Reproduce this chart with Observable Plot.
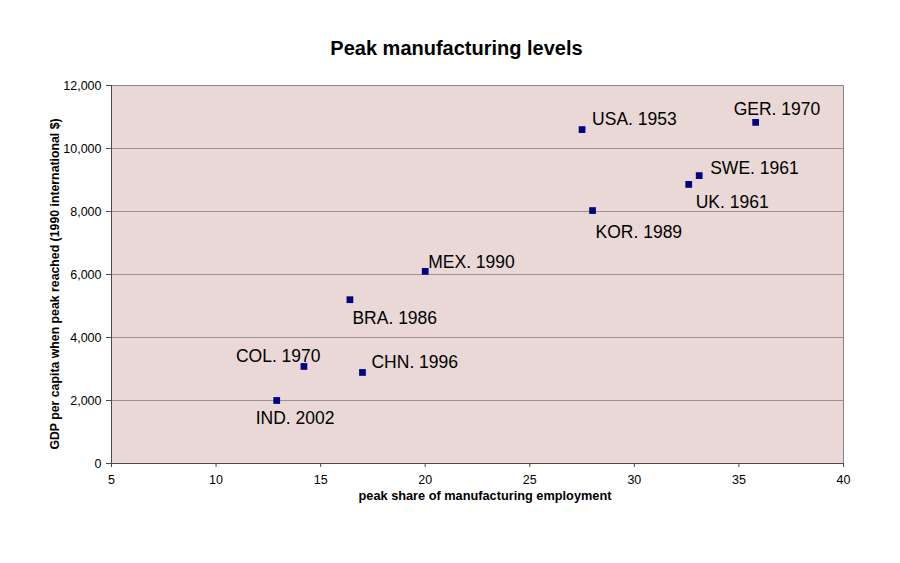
<!DOCTYPE html>
<html><head><meta charset="utf-8">
<script src="https://cdn.jsdelivr.net/npm/d3@7"></script>
<script src="https://cdn.jsdelivr.net/npm/@observablehq/plot@0.6"></script>
<style>
body{margin:0;background:#fff;font-family:"Liberation Sans",Arial,sans-serif;}
#title{height:60px;box-sizing:border-box;padding-top:36px;padding-left:13px;line-height:24px;text-align:center;font-weight:bold;font-size:20px;color:#000;}
#chart svg{display:block;}
</style></head><body>
<div id="title">Peak manufacturing levels</div>
<div id="chart"></div>
<script>
// ---- data ----
const countries = ["USA", "GER", "SWE", "UK", "KOR", "MEX", "BRA", "COL", "CHN", "IND"];
const peakYears = [1953, 1970, 1961, 1961, 1989, 1990, 1986, 1970, 1996, 2002];
const peakShare = [27.5, 35.8, 33.1, 32.6, 28.0, 20.0, 16.4, 14.2, 17.0, 12.9];
const gdpPerCapita = [10600, 10830, 9140, 8860, 8030, 6100, 5200, 3080, 2890, 2000];
const xTicks = [5, 10, 15, 20, 25, 30, 35, 40];
const yTicks = [0, 2000, 4000, 6000, 8000, 10000, 12000];
const gridValues = [2000, 4000, 6000, 8000, 10000];
const xTitle = "peak share of manufacturing employment";
const yTitle = "GDP per capita when peak reached (1990 international $)";

// ---- layout ----
const rows = countries.map((c, i) => ({
  country: c, year: peakYears[i], share: peakShare[i], gdp: gdpPerCapita[i],
  label: `${c}. ${peakYears[i]}`
}));
const labelOffset = {
  USA: [10, -10], GER: [-22, -12.5], SWE: [11, -7], UK: [7, 18], KOR: [3, 21.5],
  MEX: [3, -9], BRA: [2.5, 18.5], COL: [-68, -10], CHN: [9, -10], IND: [-21, 18]
};
const font = '"Liberation Sans", Arial, sans-serif';

const labelMarks = rows.map(d => Plot.text([d], {
  x: "share", y: "gdp", text: "label",
  textAnchor: "start", lineAnchor: "middle",
  dx: labelOffset[d.country][0], dy: labelOffset[d.country][1],
  fontSize: 17.5, fill: "#000"
}));

const chart = Plot.plot({
  width: 900, height: 503,
  marginTop: 25, marginBottom: 100, marginLeft: 111, marginRight: 57,
  style: {background: "transparent", fontFamily: font, fontSize: "12.5px", color: "#000"},
  x: {domain: [5, 40]},
  y: {domain: [0, 12000]},
  marks: [
    Plot.frame({fill: "#e9d8d6"}),
    Plot.gridY(gridValues, {stroke: "#9b9191", strokeOpacity: 1}),
    Plot.frame({stroke: "#8a8585"}),
    Plot.ruleX([5], {stroke: "#4a4a4a"}),
    Plot.ruleY([0], {stroke: "#4a4a4a"}),
    Plot.axisX({ticks: xTicks, tickSize: 4, tickPadding: 8, label: null, stroke: "#4a4a4a", fill: "#000"}),
    Plot.axisY({ticks: yTicks, tickSize: 5, tickPadding: 5, tickFormat: d3.format(","), label: null, stroke: "#4a4a4a", fill: "#000"}),
    Plot.dot(rows, {x: "share", y: "gdp", symbol: "square", r: 3.8, fill: "#000080", stroke: "none"}),
    ...labelMarks,
    Plot.text([xTitle], {frameAnchor: "bottom", textAnchor: "middle", dx: 7.5, dy: 36, fontWeight: "bold", fontSize: 12.75, fill: "#000"}),
    Plot.text([yTitle], {frameAnchor: "left", textAnchor: "middle", dx: -56, dy: 9.5, rotate: -90, fontWeight: "bold", fontSize: 12.3, fill: "#000"})
  ]
});
document.getElementById("chart").appendChild(chart);
</script>
</body></html>
